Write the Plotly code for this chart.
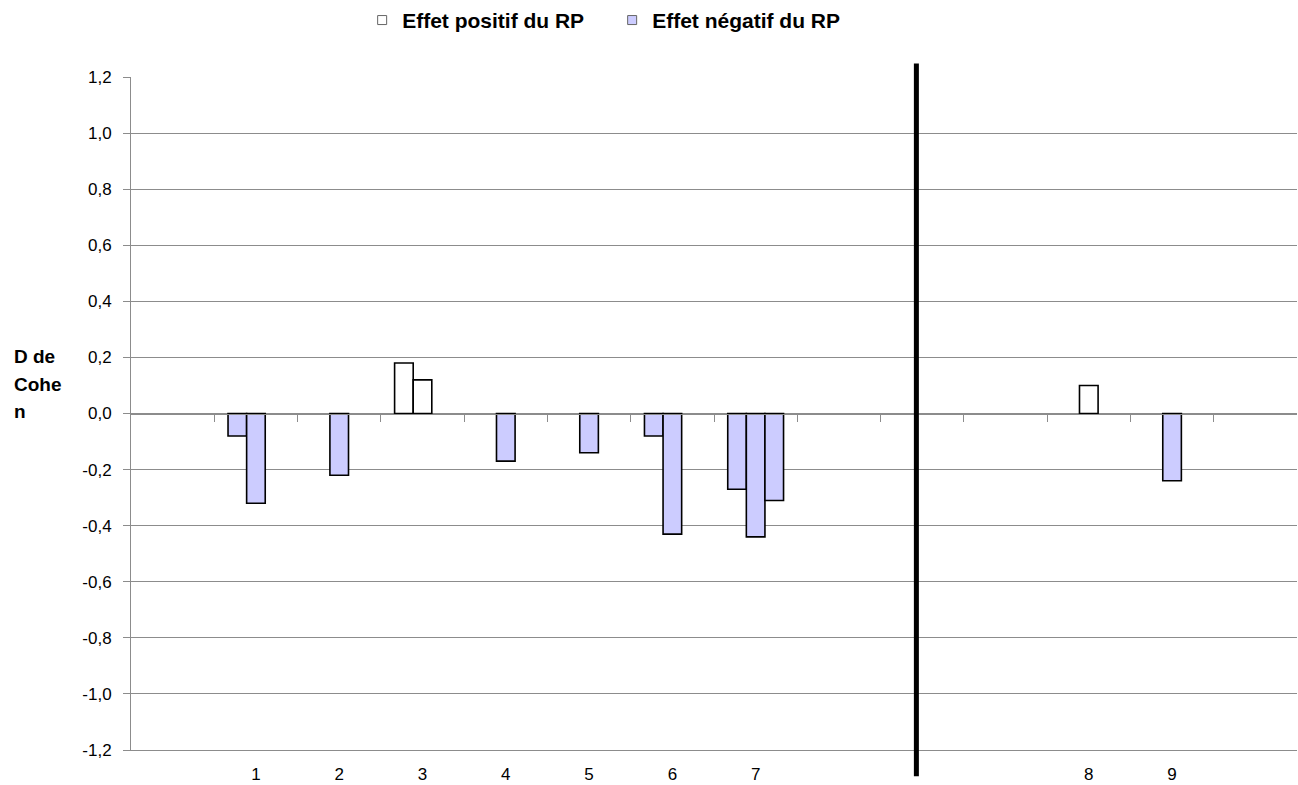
import plotly.graph_objects as go

# ---- data ----
category_labels = ["1", "2", "3", "4", "5", "6", "7", "8", "9"]
category_slots = [1, 2, 3, 4, 5, 6, 7, 11, 12]   # slot index on the category axis (blank slots between)
series_a = [-0.08, None, 0.18, None, None, -0.08, -0.27, None, None]
series_b = [-0.32, -0.22, 0.12, -0.17, -0.14, -0.43, -0.44, 0.10, -0.24]
series_c = [None, None, None, None, None, None, -0.31, None, None]
legend_names = ["Effet positif du RP", "Effet négatif du RP"]
y_ticks = [-1.2, -1.0, -0.8, -0.6, -0.4, -0.2, 0.0, 0.2, 0.4, 0.6, 0.8, 1.0, 1.2]
y_tick_labels = ["-1,2", "-1,0", "-0,8", "-0,6", "-0,4", "-0,2", "0,0", "0,2", "0,4", "0,6", "0,8", "1,0", "1,2"]
n_slots = 14
separator_x = 8.93

POS_COLOR = "#FFFFFF"
NEG_COLOR = "#CCCCFF"
GRID = "#8C8C8C"
FONT = "Liberation Sans"

def colors(vals):
    return [NEG_COLOR if (v is not None and v < 0) else POS_COLOR for v in vals]

fig = go.Figure()
for vals in (series_a, series_b, series_c):
    fig.add_trace(go.Bar(
        x=category_slots, y=vals,
        marker=dict(color=colors(vals), line=dict(color="black", width=1.6)),
        showlegend=False, hoverinfo="skip",
    ))

# legend entries
for name, col in zip(legend_names, (POS_COLOR, NEG_COLOR)):
    fig.add_trace(go.Scatter(
        x=[None], y=[None], mode="markers", name=name,
        marker=dict(symbol="square", size=9, color=col, line=dict(color="#666666", width=1)),
    ))

# helper trace for the zero-line axis with boundary ticks
fig.add_trace(go.Scatter(x=[None], y=[None], xaxis="x2", showlegend=False, hoverinfo="skip"))

boundaries = [i + 0.5 for i in range(n_slots - 1)]

fig.update_layout(
    width=1298, height=785,
    margin=dict(l=131, r=1, t=77, b=35),
    paper_bgcolor="white", plot_bgcolor="white",
    barmode="group", bargap=0.33, bargroupgap=0,
    font=dict(family=FONT, size=17, color="black"),
    xaxis=dict(
        range=[-0.5, n_slots - 0.5],
        tickmode="array", tickvals=category_slots, ticktext=category_labels,
        showgrid=False, zeroline=False,
        showline=True, linecolor=GRID, linewidth=1,
        ticks="", tickfont=dict(size=17), ticklabelstandoff=9,
    ),
    xaxis2=dict(
        overlaying="x", anchor="free", position=0.5, side="bottom",
        range=[-0.5, n_slots - 0.5],
        tickmode="array", tickvals=boundaries,
        ticks="outside", ticklen=7, tickcolor=GRID, tickwidth=1,
        showticklabels=False, showgrid=False, zeroline=False,
        showline=True, linecolor=GRID, linewidth=1,
    ),
    yaxis=dict(
        range=[-1.2, 1.2],
        tickmode="array", tickvals=y_ticks, ticktext=y_tick_labels,
        showgrid=True, gridcolor=GRID, gridwidth=1,
        zeroline=True, zerolinecolor=GRID, zerolinewidth=1,
        showline=True, linecolor=GRID, linewidth=1,
        ticks="outside", ticklen=7, tickcolor=GRID,
        tickfont=dict(size=17), ticklabelstandoff=8,
    ),
    legend=dict(
        orientation="h", xref="container", yref="container",
        x=0.279, xanchor="left", y=0.974, yanchor="middle",
        font=dict(family=FONT, size=21, weight="bold"),
        bgcolor="rgba(0,0,0,0)", itemwidth=30, entrywidth=205,
    ),
    shapes=[dict(
        type="line", xref="x", yref="paper",
        x0=separator_x, x1=separator_x, y0=-0.039, y1=1.02,
        line=dict(color="black", width=5),
    )],
)

for txt, yp in (("D de", 0.5844), ("Cohe", 0.5428), ("n", 0.5026)):
    fig.add_annotation(
        text=txt, xref="paper", yref="paper", x=-0.1023, y=yp,
        xanchor="left", yanchor="middle", showarrow=False,
        font=dict(family=FONT, size=19, weight="bold", color="black"),
    )

fig.write_html(
    "out.html",
    config={"displayModeBar": False},
    post_script="document.body.style.margin='0';document.body.style.overflow='hidden';",
)
